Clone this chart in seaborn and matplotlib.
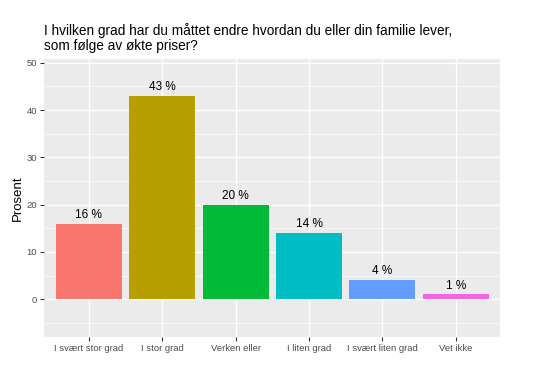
import matplotlib
matplotlib.use("Agg")
import matplotlib.pyplot as plt
import pandas as pd
import seaborn as sns
from matplotlib.ticker import MultipleLocator

categories = ["I svært stor grad", "I stor grad", "Verken eller", "I liten grad", "I svært liten grad", "Vet ikke"]
percent = [16, 43, 20, 14, 4, 1]
colors = ["#F8766D", "#B79F00", "#00BA38", "#00BFC4", "#619CFF", "#F564E3"]
title = "I hvilken grad har du måttet endre hvordan du eller din familie lever,\nsom følge av økte priser?"

df = pd.DataFrame({"kategori": categories, "prosent": percent})

sns.set_style("darkgrid", {"axes.facecolor": "#EBEBEB", "grid.color": "white"})
plt.rcParams["font.family"] = ["Liberation Sans", "DejaVu Sans"]

fig = plt.figure(figsize=(5.38, 3.86), dpi=100)
ax = fig.add_axes([0.082, 0.127, 0.847, 0.72])

sns.barplot(data=df, x="kategori", y="prosent", hue="kategori", palette=colors,
            width=0.9, saturation=1, legend=False, linewidth=0, ax=ax)

for i, v in enumerate(percent):
    ax.text(i, v + 0.6, f"{v} %", ha="center", va="bottom", fontsize=8.5, color="black")

ax.set_xlim(-0.61, 5.6)
ax.set_ylim(-8, 50.8)
ax.yaxis.set_major_locator(MultipleLocator(10))
ax.yaxis.set_minor_locator(MultipleLocator(5))
ax.set_yticks(range(0, 51, 10))
ax.grid(which="major", color="white", linewidth=1.0)
ax.grid(which="minor", axis="y", color="white", linewidth=0.5)
ax.tick_params(axis="both", which="major", length=3, width=0.8, color="#333333",
               labelsize=6.8, labelcolor="#4D4D4D", pad=2, bottom=True, left=True)
ax.tick_params(axis="y", which="minor", length=0)
for s in ax.spines.values():
    s.set_visible(False)

ax.set_xlabel("")
ax.set_ylabel("Prosent", fontsize=9.5, color="black", labelpad=2)
fig.text(0.082, 0.862, title, fontsize=9.8, ha="left", va="bottom", color="black",
         linespacing=1.1)

fig.savefig("out.png", dpi=100)
